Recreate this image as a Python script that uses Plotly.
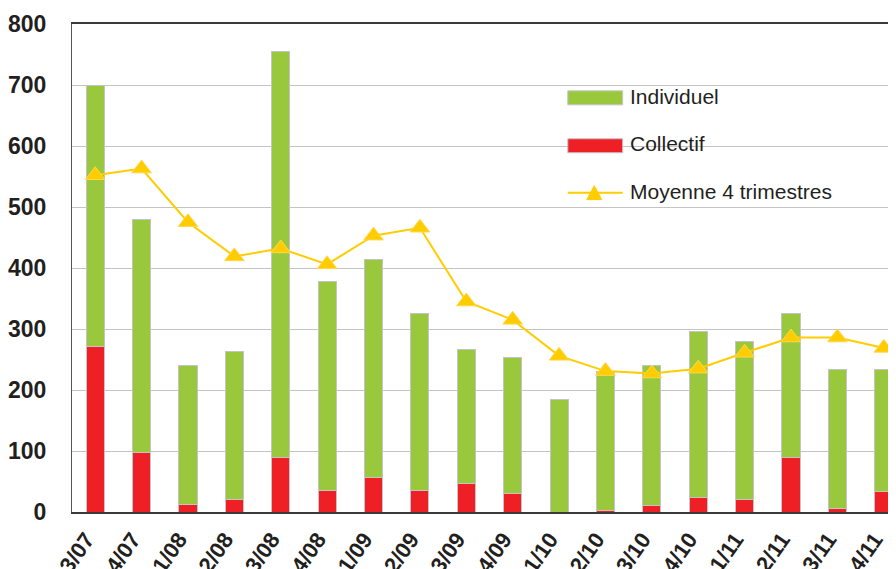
import plotly.graph_objects as go

categories = ["3/07", "4/07", "1/08", "2/08", "3/08", "4/08", "1/09", "2/09", "3/09",
              "4/09", "1/10", "2/10", "3/10", "4/10", "1/11", "2/11", "3/11", "4/11"]
totals = [700, 479, 240, 263, 755, 378, 414, 325, 266, 253, 184, 230, 240, 296, 279, 325, 233, 233]
collectif = [272, 97, 13, 20, 89, 36, 56, 36, 46, 30, 0, 2, 10, 23, 20, 89, 6, 33]
individuel = [t - c for t, c in zip(totals, collectif)]
moyenne = [552, 563, 475, 419, 432, 406, 453, 466, 345, 315, 256, 231, 227, 235, 261, 286, 286, 269]
legend_labels = ["Individuel", "Collectif", "Moyenne 4 trimestres"]

GREEN = "#99C83C"
RED = "#EE1F25"
YELLOW = "#FFCC00"
EDGE = "#C4C4C8"
TEXT = "#231F20"
FONT = "Liberation Sans, Arial, sans-serif"

# page offset (body margin) compensation
L, T = 62, 16
W, H = 896, 569
PW = W - L            # plot width (extends to the right edge)
PH = 489


def px(X):
    return (X - 8 - L) / PW


def py(Y):
    return 1 - (Y - 8 - T) / PH


x = list(range(len(categories)))

fig = go.Figure()
fig.add_trace(go.Bar(x=x, y=collectif, name=legend_labels[1],
                     marker=dict(color=RED, line=dict(color=EDGE, width=1)), width=0.39))
fig.add_trace(go.Bar(x=x, y=individuel, name=legend_labels[0],
                     marker=dict(color=GREEN, line=dict(color=EDGE, width=1)), width=0.39))
fig.add_trace(go.Scatter(x=x, y=moyenne, name=legend_labels[2], mode="lines+markers",
                         line=dict(color=YELLOW, width=2),
                         marker=dict(symbol="triangle-up", size=17, color=YELLOW,
                                     line=dict(color="#FFD84D", width=1))))

shapes = [
    # legend background
    dict(type="rect", xref="paper", yref="paper", x0=px(543), x1=px(856), y0=py(225), y1=py(60),
         fillcolor="white", line=dict(width=0), layer="between"),
    dict(type="rect", xref="paper", yref="paper", x0=px(567), x1=px(622), y0=py(105), y1=py(91),
         fillcolor=GREEN, line=dict(color=EDGE, width=1), layer="above"),
    dict(type="rect", xref="paper", yref="paper", x0=px(567), x1=px(622), y0=py(153), y1=py(139),
         fillcolor=RED, line=dict(color=EDGE, width=1), layer="above"),
    dict(type="line", xref="paper", yref="paper", x0=px(567), x1=px(622), y0=py(193), y1=py(193),
         line=dict(color=YELLOW, width=2), layer="above"),
    dict(type="path", xref="paper", yref="paper",
         path=f"M {px(586)} {py(200)} L {px(601)} {py(200)} L {px(593.5)} {py(186)} Z",
         fillcolor=YELLOW, line=dict(color=YELLOW, width=1), layer="above"),
]

annotations = [
    dict(xref="paper", yref="paper", x=px(627), y=py(yy), text=t, showarrow=False,
         xanchor="left", yanchor="middle", font=dict(size=21, family=FONT, color=TEXT))
    for t, yy in zip(legend_labels, [97, 144, 192])
]

fig.update_layout(
    width=W, height=H,
    margin=dict(l=L, r=0, t=T, b=H - T - PH),
    barmode="stack",
    plot_bgcolor="white", paper_bgcolor="white",
    font=dict(family=FONT, color=TEXT),
    showlegend=False,
    shapes=shapes,
    annotations=annotations,
    xaxis=dict(range=[-0.5, -0.5 + PW / 46.5], tickmode="array", tickvals=x, ticktext=categories,
               tickangle=-55, tickfont=dict(size=22, family=FONT, color=TEXT, weight="bold"),
               showline=True, linecolor="#3A3A3A", linewidth=1.5, mirror=True,
               showgrid=False, ticks="", zeroline=False, ticklabelstandoff=4, ticklabelshift=-9),
    yaxis=dict(range=[0, 800], dtick=100, tickfont=dict(size=23, family=FONT, color=TEXT, weight="bold"),
               showline=True, linecolor="#555555", linewidth=1,
               showgrid=True, gridcolor="#C4C4C4", gridwidth=1, ticks="", zeroline=False,
               ticklabelstandoff=20),
)

fig.write_html("out.html")
